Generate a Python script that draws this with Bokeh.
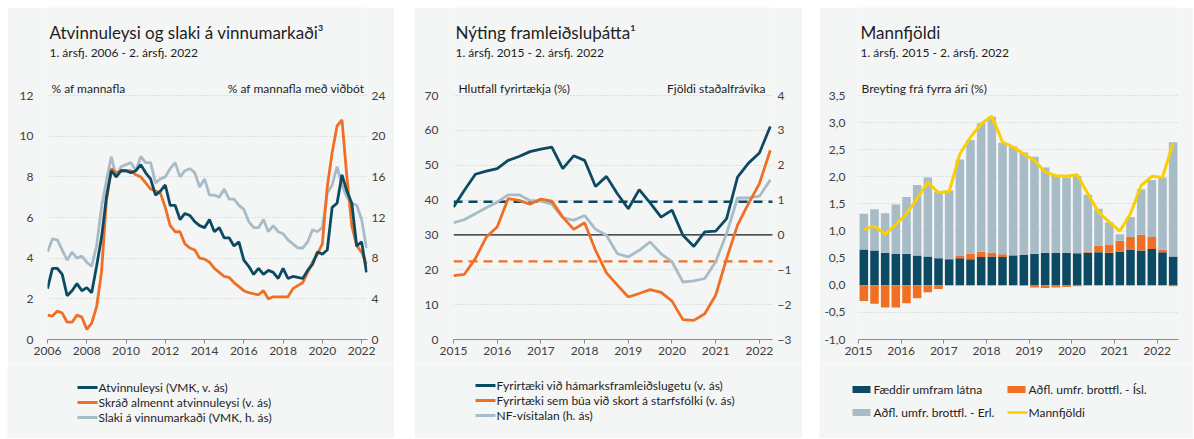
from bokeh.plotting import figure
from bokeh.models import (LinearAxis, Range1d, Label, ColumnDataSource, FixedTicker,
                          CustomJSTickFormatter, Spacer)
from bokeh.layouts import row, column
from bokeh.embed import file_html
from bokeh.resources import INLINE

BG = "#f4f5f5"
DARK = "#0c4a63"
ORANGE = "#f06f24"
LIGHT = "#a8bcc8"
YELLOW = "#fbd000"
FONT = "Lato"
TXT = "#1e1e1e"
TICK = "#404040"

# ---------------- Panel 1 data (quarterly, 2006Q1 - 2022Q2) ----------------
p1_start = 2006
p1_atvinnuleysi = [
    2.5, 3.5, 3.5, 3.2,   2.15, 2.4, 2.75, 2.4,   2.55, 2.3, 3.6, 5.0,
    7.0, 8.3, 8.0, 8.3,   8.3, 8.2, 8.3, 8.6,     8.2, 7.9, 7.1, 7.3,
    7.6, 6.6, 6.6, 5.9,   6.2, 6.1, 5.8, 5.6,     5.5, 5.9, 5.3, 5.5,
    5.0, 5.0, 4.6, 4.8,   3.9, 3.6, 3.2, 3.5,     3.2, 3.4, 3.3, 3.0,
    3.5, 3.0, 3.1, 3.05,  3.0, 3.4, 3.7, 4.3,     4.2, 4.4, 6.5, 6.7,
    8.1, 7.3, 6.7, 4.6,   4.8, 3.3]
p1_skrad = [
    1.2, 1.15, 1.4, 1.3,  0.85, 0.85, 1.2, 1.1,   0.5, 0.8, 1.6, 3.3,
    6.8, 8.4, 8.2, 8.3,   8.3, 8.3, 8.1, 8.0,     7.7, 7.4, 7.3, 7.2,
    6.5, 5.6, 5.3, 5.3,   4.7, 4.5, 4.4, 4.0,     3.95, 3.8, 3.5, 3.3,
    3.1, 3.05, 2.8, 2.6,  2.4, 2.3, 2.25, 2.2,    2.4, 2.0, 2.1, 2.1,
    2.1, 2.1, 2.5, 2.65,  2.8, 3.3, 3.8, 4.2,     4.7, 7.5, 9.2, 10.5,
    10.8, 8.0, 5.6, 4.6,  4.3, 3.7]
p1_slaki = [  # right axis (% af mannafla með viðbót)
    8.6, 9.9, 9.8, 8.8,     7.8, 8.6, 8.0, 8.2,     7.6, 7.2, 9.2, 13.0,
    15.6, 18.0, 16.0, 17.0, 17.2, 17.4, 16.6, 18.0, 17.4, 17.4, 15.4, 15.8,
    16.0, 16.8, 17.4, 16.0, 16.6, 16.8, 16.4, 15.0, 15.8, 14.2, 14.2, 14.0,
    14.8, 13.8, 13.8, 13.2, 12.8, 11.6, 11.0, 11.0, 11.8, 10.6, 11.2, 10.6,
    10.4, 9.8, 9.4, 9.0,    9.0, 9.6, 10.8, 10.6,   11.0, 14.4, 15.2, 17.0,
    15.2, 14.0, 13.4, 13.2, 11.8, 9.0]
p1_xticks = [2006, 2008, 2010, 2012, 2014, 2016, 2018, 2020, 2022]
p1_yticks = [0, 2, 4, 6, 8, 10, 12]
p1_yticks_r = [0, 4, 8, 12, 16, 20, 24]
p1_labels = ["Atvinnuleysi (VMK, v. ás)", "Skráð almennt atvinnuleysi (v. ás)",
             "Slaki á vinnumarkaði (VMK, h. ás)"]

# ---------------- Panel 2 data (quarterly, 2015Q1 - 2022Q2) ----------------
p2_start = 2015
p2_hamark = [38.0, 42.8, 47.4, 48.3, 49.0, 51.4, 52.5, 53.9, 54.6, 55.2,
             49.0, 52.7, 51.4, 43.9, 46.8, 41.8, 37.5, 43.0, 39.2, 35.1,
             37.1, 29.9, 26.7, 30.9, 31.1, 34.7, 46.6, 50.6, 53.5, 61.1]
p2_skortur = [18.3, 18.7, 23.2, 29.4, 32.3, 40.4, 39.9, 38.8, 40.3, 39.7,
              35.1, 31.6, 33.5, 25.6, 19.1, 15.6, 12.2, 13.2, 14.3, 13.5,
              11.0, 5.7, 5.5, 7.4, 12.7, 23.2, 32.8, 39.0, 44.7, 54.3]
p2_nf = [0.35, 0.44, 0.61, 0.78, 0.94, 1.15, 1.15, 0.99, 0.97, 0.88,
         0.50, 0.42, 0.56, 0.16, -0.01, -0.54, -0.63, -0.44, -0.20, -0.54,
         -0.77, -1.35, -1.32, -1.25, -0.77, 0.04, 1.06, 1.06, 1.11, 1.58]
p2_avg_hamark = 39.5
p2_avg_skortur = 22.4
p2_zero_left = 30
p2_xticks = [2015, 2016, 2017, 2018, 2019, 2020, 2021, 2022]
p2_yticks = [0, 10, 20, 30, 40, 50, 60, 70]
p2_yticks_r = [-3, -2, -1, 0, 1, 2, 3, 4]
p2_labels = ["Fyrirtæki við hámarksframleiðslugetu (v. ás)",
             "Fyrirtæki sem búa við skort á starfsfólki (v. ás)",
             "NF-vísitalan (h. ás)"]

# ---------------- Panel 3 data (quarterly, 2015Q1 - 2022Q2) ----------------
p3_start = 2015
p3_faeddir = [0.66, 0.64, 0.60, 0.58, 0.58, 0.55, 0.53, 0.50, 0.48, 0.50,
              0.48, 0.52, 0.53, 0.52, 0.55, 0.56, 0.58, 0.60, 0.60, 0.60,
              0.59, 0.60, 0.61, 0.60, 0.62, 0.66, 0.64, 0.67, 0.61, 0.53]
p3_isl = [-0.29, -0.34, -0.41, -0.41, -0.33, -0.24, -0.13, -0.07, 0.01, 0.04,
          0.10, 0.10, 0.07, 0.05, 0.01, -0.01, -0.04, -0.05, -0.04, -0.03,
          -0.02, 0.02, 0.12, 0.15, 0.20, 0.23, 0.29, 0.22, 0.05, -0.02]
p3_erl = [0.66, 0.76, 0.73, 0.91, 1.05, 1.30, 1.46, 1.23, 1.26, 1.78,
          2.10, 2.37, 2.51, 2.06, 2.00, 1.89, 1.79, 1.57, 1.42, 1.39,
          1.43, 1.05, 0.68, 0.41, 0.12, 0.37, 0.84, 1.05, 1.33, 2.11]
p3_mannfjoldi = [1.03, 1.09, 0.94, 1.12, 1.32, 1.60, 1.90, 1.71, 1.73, 2.42,
                 2.73, 2.98, 3.12, 2.64, 2.55, 2.42, 2.30, 2.09, 2.02, 2.01,
                 2.04, 1.69, 1.35, 1.17, 1.00, 1.32, 1.84, 2.01, 1.99, 2.63]
p3_xticks = [2015, 2016, 2017, 2018, 2019, 2020, 2021, 2022]
p3_yticks = [-1.0, -0.5, 0.0, 0.5, 1.0, 1.5, 2.0, 2.5, 3.0, 3.5]
p3_labels = ["Fæddir umfram látna", "Aðfl. umfr. brottfl. - Ísl.",
             "Aðfl. umfr. brottfl. - Erl.", "Mannfjöldi"]

# ---------------- layout geometry ----------------
PAD = 7           # page offset of the panels
CH = 357          # chart figure height (frame spans top of panel down to the x axis)
FH = 74           # legend strip height
PLOT_PX = 244     # pixel height of the tick span
HEAD_PX = 88      # pixel height above the top tick (titles)
BOTTOM = 25


def no_align(p):
    try:
        p.frame_align = False
    except Exception:
        pass


def ext(lo, hi):
    """Range whose upper part leaves room for the titles inside the frame."""
    return Range1d(lo, lo + (hi - lo) * (PLOT_PX + HEAD_PX) / PLOT_PX)


def quarters(start, n, shift=0.0):
    return [start + (i + shift) / 4 for i in range(n)]


def make_fig(width, xr, yr, ml, mr, xticks, yticks, ystand):
    p = figure(width=width, height=CH, x_range=xr, y_range=yr,
               output_backend="svg", toolbar_location=None,
               min_border_left=ml, min_border_right=mr,
               min_border_top=0, min_border_bottom=BOTTOM,
               background_fill_color=BG, border_fill_color=BG,
               outline_line_color=None)
    no_align(p)
    p.xgrid.grid_line_color = None
    p.ygrid.grid_line_color = "#c9cccc"
    p.ygrid.grid_line_dash = "1 2"
    p.ygrid.grid_line_width = 1
    for ax in p.axis:
        ax.major_label_text_font = FONT
        ax.major_label_text_font_size = "12px"
        ax.major_label_text_color = TICK
        ax.minor_tick_line_color = None
    xa = p.xaxis[0]
    xa.ticker = FixedTicker(ticks=xticks)
    xa.axis_line_color = "#8a8a8a"
    xa.major_tick_line_color = "#8a8a8a"
    xa.major_tick_in = 0
    xa.major_tick_out = 4
    xa.major_label_standoff = 3
    ya = p.yaxis[0]
    ya.ticker = FixedTicker(ticks=yticks)
    ya.axis_line_color = None
    ya.major_tick_line_color = None
    ya.major_tick_in = 0
    ya.major_tick_out = 0
    ya.major_label_standoff = ystand
    return p


def right_axis(p, name, ticks, standoff):
    ax = LinearAxis(y_range_name=name, ticker=FixedTicker(ticks=ticks))
    ax.axis_line_color = None
    ax.major_tick_line_color = None
    ax.major_tick_in = 0
    ax.major_tick_out = 0
    ax.minor_tick_line_color = None
    ax.major_label_text_font = FONT
    ax.major_label_text_font_size = "12px"
    ax.major_label_text_color = TICK
    ax.major_label_standoff = standoff
    p.add_layout(ax, "right")


def text(p, x, y, s, size, dx, dy, align="left", color=TXT, baseline="alphabetic"):
    p.add_layout(Label(x=x, y=y, x_offset=dx, y_offset=dy, text=s,
                       text_font=FONT, text_font_size=size, text_color=color,
                       text_align=align, text_baseline=baseline))


def headers(p, x0, ytop, title, subtitle):
    text(p, x0, ytop, title, "17px", 2, 63)
    text(p, x0, ytop, subtitle, "12px", 2, 43)


def strip(width):
    f = figure(width=width, height=FH, x_range=Range1d(0, width), y_range=Range1d(0, FH),
               output_backend="svg", toolbar_location=None,
               x_axis_type=None, y_axis_type=None,
               min_border_left=0, min_border_right=0, min_border_top=0, min_border_bottom=0,
               background_fill_color=BG, border_fill_color=BG,
               outline_line_color=None)
    no_align(f)
    f.grid.grid_line_color = None
    return f


def key(f, kind, color, x0, y, label, lw=2.8):
    """One legend entry: a key (line or box) followed by its label."""
    if kind == "line":
        f.segment(x0=[x0], y0=[y], x1=[x0 + 20], y1=[y], line_color=color, line_width=lw)
    else:
        f.quad(left=[x0], right=[x0 + 18], bottom=[y - 3.5], top=[y + 3.5],
               fill_color=color, line_color=None)
    text(f, x0 + 20, y, label, "12px", 1, 0, baseline="middle")


# ---------------- Panel 1 ----------------
W1 = 387
xr1 = Range1d(2006, 2022.3)
p1 = make_fig(W1, xr1, ext(p1_yticks[0], p1_yticks[-1]), 40, 27, p1_xticks, p1_yticks, 14)
p1.extra_y_ranges = {"r": ext(p1_yticks_r[0], p1_yticks_r[-1])}
right_axis(p1, "r", p1_yticks_r, 4)
x1 = quarters(p1_start, len(p1_atvinnuleysi))
p1.line(x1, p1_slaki, y_range_name="r", line_color=LIGHT, line_width=2.8)
p1.line(x1, p1_skrad, line_color=ORANGE, line_width=2.8)
p1.line(x1, p1_atvinnuleysi, line_color=DARK, line_width=2.8)
headers(p1, xr1.start, p1_yticks[-1], "Atvinnuleysi og slaki á vinnumarkaði³",
        "1. ársfj. 2006 - 2. ársfj. 2022")
text(p1, xr1.start, p1_yticks[-1], "% af mannafla", "12px", 4, 7)
text(p1, xr1.end, p1_yticks[-1], "% af mannafla með viðbót", "12px", -3, 7, align="right")
f1 = strip(W1)
for lab, col, y in zip(p1_labels, [DARK, ORANGE, LIGHT], [51, 36, 21]):
    key(f1, "line", col, 70, y, lab)

# ---------------- Panel 2 ----------------
W2 = 388
xr2 = Range1d(2015, 2022.3)
p2 = make_fig(W2, xr2, ext(p2_yticks[0], p2_yticks[-1]), 39, 30, p2_xticks, p2_yticks, 15)
p2.extra_y_ranges = {"r": ext(p2_yticks_r[0], p2_yticks_r[-1])}
right_axis(p2, "r", p2_yticks_r, 5)
p2.ray(x=[xr2.start], y=[p2_zero_left], length=0, angle=0, line_color="#1a1a1a", line_width=1.2)
p2.ray(x=[xr2.start], y=[p2_avg_hamark], length=0, angle=0, line_color=DARK,
       line_width=2.6, line_dash="9 6")
p2.ray(x=[xr2.start], y=[p2_avg_skortur], length=0, angle=0, line_color=ORANGE,
       line_width=2.2, line_dash="9 6")
x2 = quarters(p2_start, len(p2_hamark))
p2.line(x2, p2_nf, y_range_name="r", line_color=LIGHT, line_width=2.8)
p2.line(x2, p2_skortur, line_color=ORANGE, line_width=2.8)
p2.line(x2, p2_hamark, line_color=DARK, line_width=2.8)
headers(p2, xr2.start, p2_yticks[-1], "Nýting framleiðsluþátta¹", "1. ársfj. 2015 - 2. ársfj. 2022")
text(p2, xr2.start, p2_yticks[-1], "Hlutfall fyrirtækja (%)", "12px", 5, 7)
text(p2, xr2.end, p2_yticks[-1], "Fjöldi staðalfrávika", "12px", -7, 7, align="right")
f2 = strip(W2)
for lab, col, y in zip(p2_labels, [DARK, ORANGE, LIGHT], [53, 38, 23]):
    key(f2, "line", col, 61, y, lab)

# ---------------- Panel 3 ----------------
W3 = 374
xr3 = Range1d(2015, 2022.5)
p3 = make_fig(W3, xr3, ext(p3_yticks[0], p3_yticks[-1]), 39, 15, p3_xticks, p3_yticks, 13)
p3.yaxis[0].formatter = CustomJSTickFormatter(code="return tick.toFixed(1).replace('.', ',');")
x3 = quarters(p3_start, len(p3_faeddir), 0.5)
src = ColumnDataSource(dict(
    x=x3,
    d_top=p3_faeddir,
    o_bot=[d if o > 0 else o for d, o in zip(p3_faeddir, p3_isl)],
    o_top=[d + o if o > 0 else 0 for d, o in zip(p3_faeddir, p3_isl)],
    g_bot=[d + max(o, 0) for d, o in zip(p3_faeddir, p3_isl)],
    g_top=[d + max(o, 0) + g for d, o, g in zip(p3_faeddir, p3_isl, p3_erl)],
    total=p3_mannfjoldi,
))
BW = 0.2
p3.vbar(x="x", bottom=0, top="d_top", width=BW, source=src, fill_color=DARK, line_color=None)
p3.vbar(x="x", bottom="o_bot", top="o_top", width=BW, source=src, fill_color=ORANGE, line_color=None)
p3.vbar(x="x", bottom="g_bot", top="g_top", width=BW, source=src, fill_color=LIGHT, line_color=None)
p3.line(x="x", y="total", source=src, line_color=YELLOW, line_width=3)
headers(p3, xr3.start, p3_yticks[-1], "Mannfjöldi", "1. ársfj. 2015 - 2. ársfj. 2022")
text(p3, xr3.start, p3_yticks[-1], "Breyting frá fyrra ári (%)", "12px", 3, 7)
f3 = strip(W3)
key(f3, "box", DARK, 33, 49, p3_labels[0])
key(f3, "box", ORANGE, 188, 49, p3_labels[1])
key(f3, "box", LIGHT, 33, 26, p3_labels[2])
key(f3, "line", YELLOW, 188, 26, p3_labels[3], lw=2.5)

layout = column(
    Spacer(width=1194 - 1, height=PAD),
    row(Spacer(width=PAD, height=CH + FH),
        column(p1, f1), Spacer(width=20, height=CH + FH),
        column(p2, f2), Spacer(width=17, height=CH + FH),
        column(p3, f3)))
open("out.html", "w").write(file_html(layout, INLINE))
